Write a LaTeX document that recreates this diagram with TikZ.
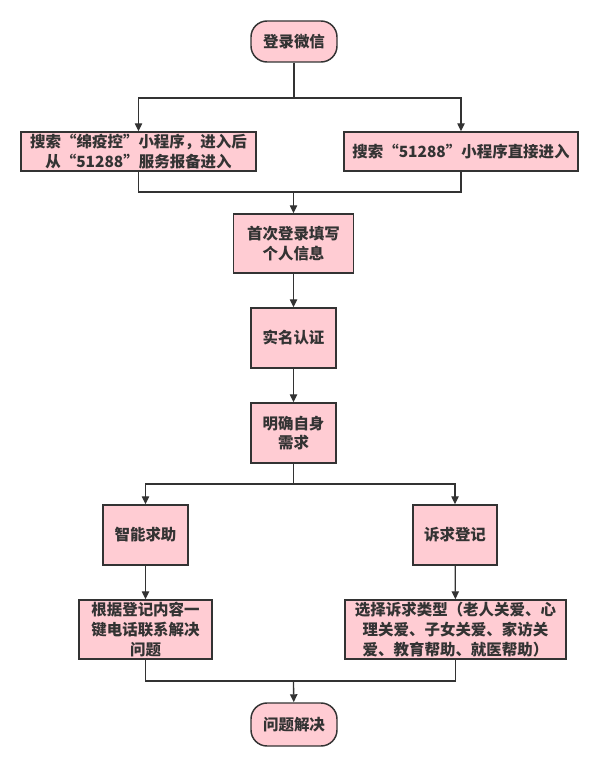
\documentclass[tikz,border=0pt]{standalone}
\usepackage{fontspec}
\setmainfont{Noto Sans CJK SC}
\usetikzlibrary{arrows.meta,calc}
\definecolor{boxfill}{RGB}{255,204,211}
\definecolor{ink}{RGB}{51,51,51}
\def\px{0.75pt}
\tikzset{
  box/.style={draw=ink, line width=1.1pt, fill=boxfill, text=ink, align=center,
    inner sep=0pt, font=\fontsize{11.6pt}{14.6pt}\selectfont\bfseries},
  term/.style={box, rounded corners=12pt},
  conn/.style={draw=ink, line width=1pt},
  arr/.style={conn, -{Triangle[length=6pt,width=5.5pt]}}
}
\begin{document}
\begin{tikzpicture}[x=0.75pt,y=-0.75pt]
\useasboundingbox (0,0) rectangle (600,767);
\fill[white] (0,0) rectangle (600,767);
% nodes
\node[term, minimum width=86*\px, minimum height=41*\px] (start) at (294,41.5) {登录微信};
\node[box, minimum width=235*\px, minimum height=39*\px] (A) at (138.5,151.5) {搜索“绵疫控”小程序，进入后\\从“51288”服务报备进入};
\node[box, minimum width=234*\px, minimum height=39*\px] (B) at (461,151.5) {搜索“51288”小程序直接进入};
\node[box, minimum width=120*\px, minimum height=59*\px] (C) at (293.5,243.5) {首次登录填写\\个人信息};
\node[box, minimum width=85*\px, minimum height=60*\px] (D) at (293.5,338) {实名认证};
\node[box, minimum width=85*\px, minimum height=60*\px] (E) at (293.5,433) {明确自身\\需求};
\node[box, minimum width=85*\px, minimum height=60*\px] (F) at (145.5,535) {智能求助};
\node[box, minimum width=84*\px, minimum height=60*\px] (G) at (455,535) {诉求登记};
\node[box, minimum width=133*\px, minimum height=59*\px, font=\fontsize{11.6pt}{15pt}\selectfont\bfseries] (H) at (145.5,629.5) {根据登记内容一\\键电话联系解决\\问题};
\node[box, minimum width=221*\px, minimum height=59*\px, font=\fontsize{11.6pt}{15pt}\selectfont\bfseries] (I) at (455.5,629.5) {选择诉求类型（老人关爱、心\\理关爱、子女关爱、家访关\\爱、教育帮助、就医帮助）};
\node[term, minimum width=86*\px, minimum height=43*\px] (end) at (294,724.5) {问题解决};
% junctions
\coordinate (j1) at (294,98);
\coordinate (j2) at (293.5,192);
\coordinate (j3) at (293.5,484);
\coordinate (j4) at (293.5,681);
% connectors
\draw[conn] (start) -- (j1);
\draw[arr] (j1) -| (A);
\draw[arr] (j1) -| (B);
\draw[conn] (A) |- (j2);
\draw[conn] (B) |- (j2);
\draw[arr] (j2) -- (C);
\draw[arr] (C) -- (D);
\draw[arr] (D) -- (E);
\draw[conn] (E) -- (j3);
\draw[arr] (j3) -| (F);
\draw[arr] (j3) -| (G);
\draw[arr] (F) -- (H);
\draw[arr] (G) -- (I);
\draw[conn] (H) |- (j4);
\draw[conn] (I) |- (j4);
\draw[arr] (j4) -- (end);
\end{tikzpicture}
\end{document}
